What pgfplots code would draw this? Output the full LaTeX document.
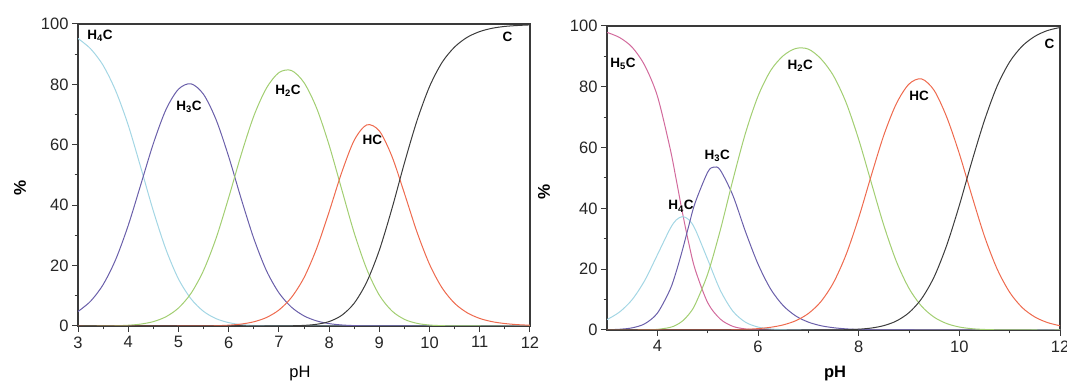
\documentclass[border=0pt]{standalone}
\usepackage{fontspec}
\setmainfont{Liberation Sans}
\usepackage{pgfplots}
\pgfplotsset{compat=1.18}
\definecolor{cCy}{HTML}{A3D6E4}
\definecolor{cPu}{HTML}{6A5FAA}
\definecolor{cGr}{HTML}{A2CE72}
\definecolor{cRe}{HTML}{EE6A4E}
\definecolor{cBk}{HTML}{3C3C3C}
\definecolor{cPk}{HTML}{D26A9C}
\definecolor{cAx}{HTML}{3A3A3A}
\pgfplotsset{
  myaxis/.style={
    anchor=south west, scale only axis,
    xmin=3, xmax=12, ymin=0, ymax=100,
    ytick={0,20,...,100}, minor y tick num=1,
    tick align=outside, tick pos=left,
    major tick length=6pt, minor tick length=3.5pt,
    axis line style={line width=1.4pt, color=cAx},
    every tick/.style={cAx, line width=1pt},
    tick label style={font=\fontsize{16.5}{18}\selectfont, text=black!85},
    xticklabel style={yshift=-1pt},
    /pgf/number format/assume math mode=true,
    clip=true,
  },
  every axis plot/.append style={line width=1pt, smooth, no markers},
}
\newcommand{\lab}{\fontsize{13.5}{15}\selectfont\bfseries}
\begin{document}
\begin{tikzpicture}
\path[use as bounding box] (0pt,0pt) rectangle (1067pt,385pt);
% ---------------- left panel
\begin{axis}[myaxis, at={(78pt,59pt)}, width=452pt, height=302pt,
  xtick={3,...,12}, minor x tick num=1]
\addplot[cCy] coordinates {(3,95.2)(3.25,91.8)(3.5,86.3)(3.75,77.9)(4,66.5)(4.25,52.5)(4.5,38.1)(4.75,25.4)(5,15.6)(5.25,9.0)(5.5,4.84)(5.75,2.43)(6,1.12)(6.25,0.47)(6.5,0.18)(6.75,0.07)(7,0.03)(7.5,0)(12,0)};
\addplot[cPu] coordinates {(3,4.8)(3.25,8.2)(3.5,13.7)(3.75,22.0)(4,33.3)(4.25,46.8)(4.5,60.4)(4.75,71.6)(5,78.4)(5.25,80.2)(5.5,76.7)(5.75,68.3)(6,56.1)(6.25,42.1)(6.5,29.0)(6.75,18.4)(7,11.0)(7.25,6.24)(7.5,3.35)(7.75,1.69)(8,0.79)(8.25,0.34)(8.5,0.13)(8.75,0.04)(9,0.01)(9.5,0)(12,0)};
\addplot[cGr] coordinates {(3,0)(3.5,0.03)(3.75,0.09)(4,0.25)(4.25,0.63)(4.5,1.45)(4.75,3.05)(5,5.95)(5.25,10.8)(5.5,18.4)(5.75,29.1)(6,42.5)(6.25,56.8)(6.5,69.5)(6.75,78.7)(7,83.9)(7.25,84.6)(7.5,80.6)(7.75,72.2)(8,59.9)(8.25,45.3)(8.5,30.8)(8.75,18.8)(9,10.2)(9.25,5.0)(9.5,2.2)(9.75,0.88)(10,0.32)(10.25,0.11)(10.5,0.04)(11,0)(12,0)};
\addplot[cRe] coordinates {(3,0)(5,0)(5.5,0.04)(5.75,0.10)(6,0.27)(6.25,0.64)(6.5,1.39)(6.75,2.79)(7,5.28)(7.25,9.45)(7.5,16.0)(7.75,25.6)(8,37.8)(8.25,50.8)(8.5,61.5)(8.75,66.6)(9,64.6)(9.25,56.2)(9.5,43.9)(9.75,31.1)(10,20.4)(10.25,12.6)(10.5,7.5)(10.75,4.37)(11,2.5)(11.25,1.42)(11.5,0.81)(11.75,0.45)(12,0.26)};
\addplot[cBk] coordinates {(3,0)(6.5,0)(7,0.02)(7.25,0.07)(7.5,0.20)(7.75,0.56)(8,1.47)(8.25,3.52)(8.5,7.56)(8.75,14.6)(9,25.1)(9.25,38.8)(9.5,54.0)(9.75,68.0)(10,79.3)(10.25,87.3)(10.5,92.4)(10.75,95.6)(11,97.5)(11.25,98.6)(11.5,99.2)(11.75,99.5)(12,99.7)};
\node[font=\lab] at (axis cs:3.44,96.2) {H\textsubscript{4}C};
\node[font=\lab] at (axis cs:5.21,72.6) {H\textsubscript{3}C};
\node[font=\lab] at (axis cs:7.18,77.8) {H\textsubscript{2}C};
\node[font=\lab] at (axis cs:8.86,61.6) {HC};
\node[font=\lab] at (axis cs:11.55,95.7) {C};
\end{axis}
% ---------------- right panel
\begin{axis}[myaxis, at={(607pt,55pt)}, width=453pt, height=304pt,
  xtick={4,6,...,12}, minor x tick num=1]
\addplot[cPk] coordinates {(3,97.9)(3.25,96.2)(3.5,93.0)(3.75,87.0)(4,77.0)(4.25,60.0)(4.375,49.5)(4.5,38.5)(4.625,28.5)(4.75,20.0)(5,9.0)(5.25,3.6)(5.5,1.2)(5.75,0.35)(6,0.1)(6.5,0)(12,0)};
\addplot[cCy] coordinates {(3,3.42)(3.25,5.92)(3.5,10.0)(3.75,16.3)(4,24.7)(4.25,33.2)(4.375,36.2)(4.5,37.3)(4.625,36.3)(4.75,33.2)(5,23.2)(5.25,13.1)(5.5,6.20)(5.75,2.57)(6,0.97)(6.25,0.34)(6.5,0.11)(6.75,0.04)(7,0)(12,0)};
\addplot[cPu] coordinates {(3,0.08)(3.25,0.24)(3.5,0.71)(3.75,2.05)(4,5.53)(4.25,13.2)(4.375,19.2)(4.5,26.4)(4.625,34.3)(4.75,41.8)(5,51.9)(5.125,53.6)(5.25,52.6)(5.5,44.3)(5.75,32.4)(6,21.7)(6.25,13.5)(6.5,8.03)(6.75,4.62)(7,2.59)(7.25,1.41)(7.5,0.75)(7.75,0.37)(8,0.18)(8.25,0.08)(8.5,0.03)(9,0)(12,0)};
\addplot[cGr] coordinates {(3,0)(3.5,0.01)(3.75,0.04)(4,0.20)(4.25,0.84)(4.375,1.62)(4.5,2.96)(4.625,5.13)(4.75,8.34)(5,18.4)(5.25,32.8)(5.5,49.3)(5.75,64.7)(6,76.9)(6.25,85.3)(6.5,90.2)(6.75,92.6)(7,92.4)(7.25,89.2)(7.5,83.6)(7.75,74.8)(8,62.7)(8.25,48.5)(8.5,34.4)(8.75,22.5)(9,13.7)(9.25,7.82)(9.5,4.20)(9.75,2.11)(10,0.98)(10.25,0.42)(10.5,0.17)(10.75,0.06)(11,0.02)(11.5,0)(12,0)};
\addplot[cRe] coordinates {(3,0)(5,0.01)(5.25,0.03)(5.5,0.09)(5.75,0.21)(6,0.45)(6.25,0.89)(6.5,1.68)(6.75,3.05)(7,5.42)(7.25,9.34)(7.5,15.6)(7.75,24.8)(8,36.9)(8.25,50.8)(8.5,64.1)(8.75,74.5)(9,80.9)(9.25,82.6)(9.5,78.8)(9.75,70.0)(10,58.0)(10.25,44.1)(10.5,30.8)(10.75,20.1)(11,12.4)(11.25,7.36)(11.5,4.28)(11.75,2.45)(12,1.39)};
\addplot[cBk] coordinates {(3,0)(7,0)(7.5,0.03)(7.75,0.10)(8,0.26)(8.25,0.64)(8.5,1.44)(8.75,2.97)(9,5.71)(9.25,10.3)(9.5,17.5)(9.75,27.9)(10,41.0)(10.25,55.5)(10.5,69.0)(10.75,80.2)(11,88.2)(11.25,93.4)(11.5,96.6)(11.75,98.5)(12,99.5)};
\node[font=\lab] at (axis cs:3.32,87.6) {H\textsubscript{5}C};
\node[font=\lab] at (axis cs:4.47,40.7) {H\textsubscript{4}C};
\node[font=\lab] at (axis cs:5.19,57.2) {H\textsubscript{3}C};
\node[font=\lab] at (axis cs:6.84,87) {H\textsubscript{2}C};
\node[font=\lab] at (axis cs:9.2,77) {HC};
\node[font=\lab] at (axis cs:11.79,94) {C};
\end{axis}
% ---------------- axis titles
\node[rotate=90, font=\fontsize{17}{19}\selectfont\bfseries] at (20pt,197pt) {\%};
\node[font=\fontsize{16.5}{18}\selectfont] at (300pt,11pt) {pH};
\node[rotate=90, font=\fontsize{17}{19}\selectfont\bfseries] at (544pt,193pt) {\%};
\node[font=\fontsize{16.5}{18}\selectfont\bfseries] at (835pt,11pt) {pH};
\end{tikzpicture}
\end{document}
